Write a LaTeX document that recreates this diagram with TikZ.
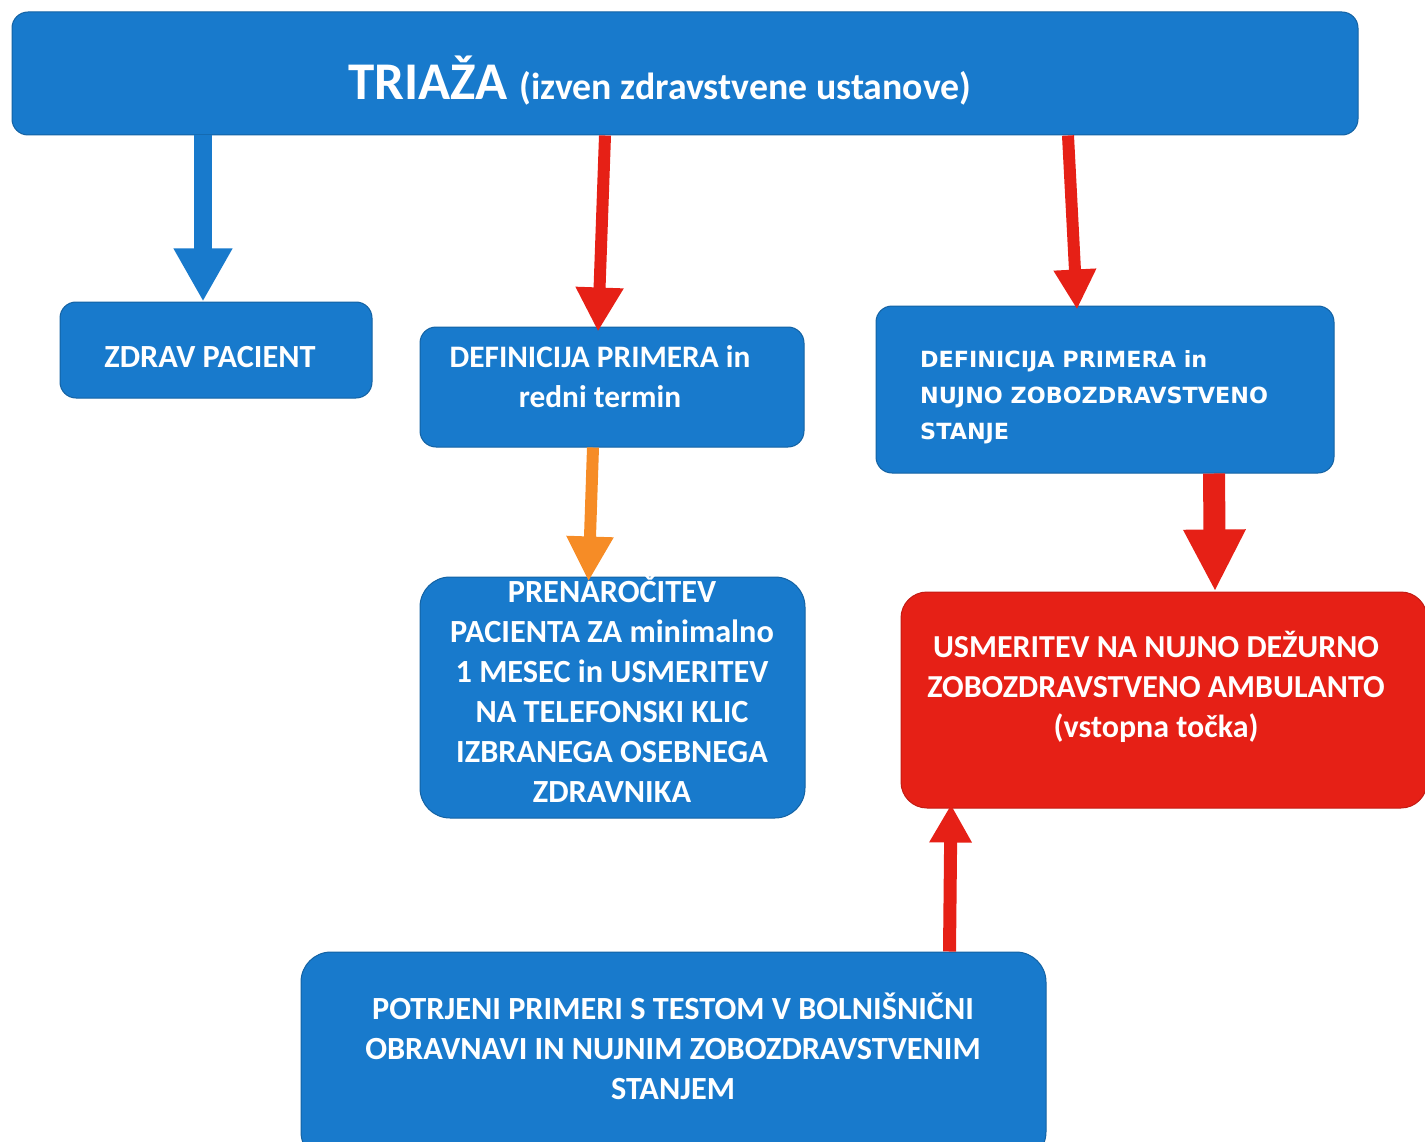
\documentclass[tikz,border=0pt]{standalone}
\usepackage{fontspec}
\setmainfont{Carlito}
\newfontfamily\wide{DejaVu Sans}
\usetikzlibrary{arrows.meta}
\definecolor{bblue}{RGB}{24,122,204}
\definecolor{bred}{RGB}{230,32,22}
\definecolor{borange}{RGB}{246,140,38}
\tikzset{
  box/.style={fill=bblue, draw=bblue!80!black, line width=1pt, rounded corners=16pt, inner sep=0pt},
  redbox/.style={fill=bred, draw=bred!85!black, line width=1pt, rounded corners=26pt, inner sep=0pt},
  txt/.style={text=white, font=\bfseries\fontsize{32.3}{40}\selectfont, align=center, inner sep=0pt},
  widetxt/.style={text=white, font=\wide\bfseries\fontsize{22.3}{36}\selectfont, align=left, inner sep=0pt},
}
\begin{document}
\begin{tikzpicture}[x=1pt,y=-1pt]
\useasboundingbox (0,0) rectangle (1425,1142);
% boxes
\node[box, minimum width=1346pt, minimum height=123pt] (top) at (685,73.5) {};
\node[box, minimum width=312pt, minimum height=96pt] (zdrav) at (216,350) {};
\node[box, minimum width=384pt, minimum height=120pt] (dpr) at (612,387) {};
\node[box, minimum width=458pt, minimum height=167pt] (dnz) at (1105,389.5) {};
\node[box, rounded corners=30pt, minimum width=385pt, minimum height=241pt] (pren) at (612.5,697.5) {};
\node[redbox, minimum width=526pt, minimum height=216pt] (usm) at (1164,700) {};
\node[box, rounded corners=30pt, minimum width=745pt, minimum height=210pt] (pot) at (673.5,1057) {};
% texts
\node[anchor=base west, text=white, inner sep=0pt, font=\bfseries] (ttl) at (348,100)
  {\fontsize{53}{60}\selectfont TRIAŽA\ \fontsize{37.8}{40}\selectfont (izven zdravstvene ustanove)};
\node[txt] (tzdrav) at (210,357) {ZDRAV PACIENT};
\node[txt, font=\bfseries\fontsize{31.3}{40}\selectfont] (tdpr) at (600,377) {DEFINICIJA PRIMERA in\\redni termin};
\node[widetxt, anchor=west] (tdnz) at (920,397) {DEFINICIJA PRIMERA in\\NUJNO ZOBOZDRAVSTVENO\\STANJE};
\node[txt] (tpren) at (612,689) {PRENAROČITEV\\PACIENTA ZA minimalno\\1 MESEC in USMERITEV\\NA TELEFONSKI KLIC\\IZBRANEGA OSEBNEGA\\ZDRAVNIKA};
\node[txt, font=\bfseries\fontsize{32}{40}\selectfont] (tusm) at (1156,687) {USMERITEV NA NUJNO DEŽURNO\\ZOBOZDRAVSTVENO AMBULANTO\\(vstopna točka)};
\node[txt] (tpot) at (673,1046) {POTRJENI PRIMERI S TESTOM V BOLNIŠNIČNI\\OBRAVNAVI IN NUJNIM ZOBOZDRAVSTVENIM\\STANJEM};
% arrows
\draw[bblue, line width=18pt, -{Triangle[width=55pt,length=53pt]}]
  ([xshift=-482pt]top.south) -- ([xshift=-13pt]zdrav.north);
\draw[bred, line width=12pt, -{Triangle[width=45pt,length=44pt]}]
  ([xshift=-80pt]top.south) -- ([xshift=-14pt,yshift=-5pt]dpr.north);
\draw[bred, line width=12pt, -{Triangle[width=40pt,length=40pt]}]
  ([xshift=383pt]top.south) -- ([xshift=-28pt,yshift=-4pt]dnz.north);
\draw[borange, line width=12pt, -{Triangle[width=44pt,length=45pt]}]
  ([xshift=-19pt]dpr.south) -- ([xshift=-24pt,yshift=-5pt]pren.north);
\draw[bred, line width=22pt, -{Triangle[width=58pt,length=62pt]}]
  ([xshift=109pt]dnz.south) -- ([xshift=51pt]usm.north);
\draw[bred, line width=13pt, -{Triangle[width=40pt,length=38pt]}]
  ([xshift=276pt]pot.north) -- ([xshift=-213pt,yshift=4pt]usm.south);
\end{tikzpicture}
\end{document}
